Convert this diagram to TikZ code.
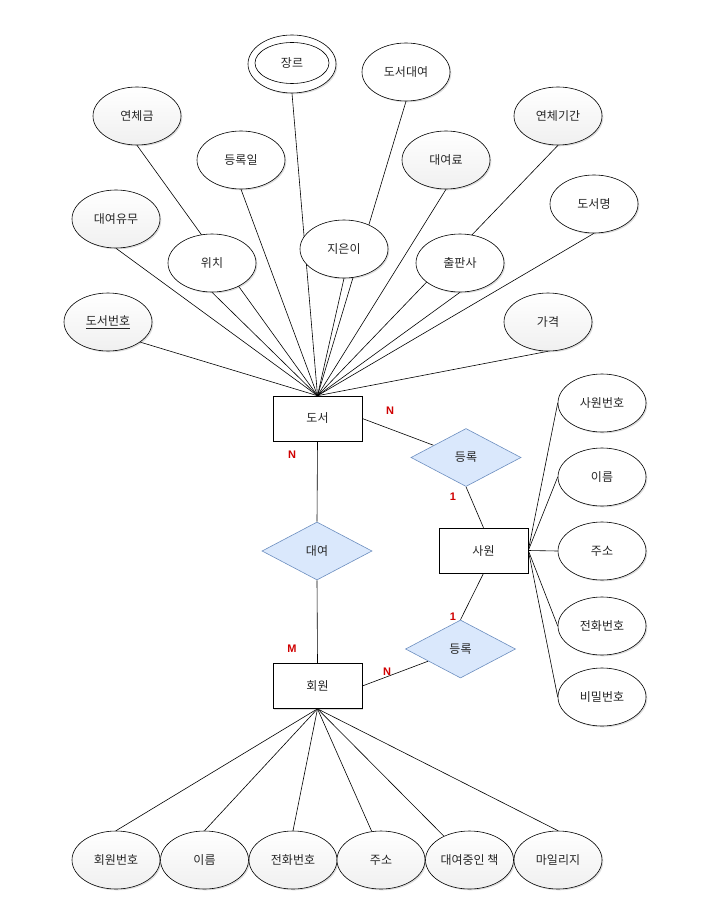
\documentclass[tikz,border=0pt]{standalone}
\usepackage{fontspec}
\setmainfont{Noto Sans CJK KR}
\newfontfamily\lblfont{Liberation Sans}
\usetikzlibrary{shapes.geometric,shadows,backgrounds}
\definecolor{dfill}{HTML}{DAE8FC}
\definecolor{dline}{HTML}{6C8EBF}
\definecolor{cred}{HTML}{D00000}
\begin{document}
\begin{tikzpicture}[x=1pt,y=-1pt,
  shd/.style={drop shadow={shadow xshift=1.3pt,shadow yshift=-1.3pt,opacity=0.25,fill=black!55}},
  attr/.style={ellipse,draw,line width=0.6pt,minimum width=88pt,minimum height=58pt,inner sep=0pt,
    fill=white,shd,text=black!85,font=\fontsize{12}{14}\selectfont},
  attrg/.style={attr,top color=white,bottom color=black!6},
  ent/.style={rectangle,draw,line width=0.6pt,minimum width=89pt,minimum height=45pt,inner sep=0pt,
    fill=white,shd,text=black!85,font=\fontsize{12}{14}\selectfont},
  rel/.style={diamond,draw=dline,line width=0.6pt,fill=dfill,minimum width=110pt,minimum height=58pt,
    inner sep=0pt,aspect=1.9,text=black!85,font=\fontsize{12}{14}\selectfont},
  card/.style={font=\lblfont\bfseries\fontsize{11}{13}\selectfont,text=cred,inner sep=0pt},
  conn/.style={line width=0.6pt,black}]
\useasboundingbox (0,0) rectangle (723,904);

% entities and relationships
\node[ent] (doseo) at (317.5,418.5) {도서};
\node[ent] (hoewon) at (317.5,686) {회원};
\node[ent] (sawon) at (483.5,550.5) {사원};
\node[rel] (daeyeo) at (317,551) {대여};
\node[rel] (reg1) at (466,457.5) {등록};
\node[rel] (reg2) at (460.5,649) {등록};

% book attributes
\node[attrg] (a1) at (108,322) {\underline{도서번호}};
\node[attrg] (a2) at (116,219) {대여유무};
\node[attrg] (a3) at (137,116) {연체금};
\node[attr] (a4) at (212,263) {위치};
\node[attr] (a5) at (241,160) {등록일};
\node[attr] (a6) at (292,64) {};
\node[ellipse,draw,line width=0.6pt,minimum width=74pt,minimum height=41pt,inner sep=0pt,fill=white,
  text=black!85,font=\fontsize{12}{14}\selectfont] (a6i) at (292,63) {장르};
\node[attr] (a7) at (344,249) {지은이};
\node[attr] (a8) at (406,72) {도서대여};
\node[attrg] (a9) at (446,160) {대여료};
\node[attr] (a10) at (460,263) {출판사};
\node[attrg] (a11) at (558,116) {연체기간};
\node[attr] (a12) at (594,204) {도서명};
\node[attrg] (a13) at (548,322) {가격};

% employee attributes
\node[attr] (s1) at (602,403) {사원번호};
\node[attr] (s2) at (602,477) {이름};
\node[attr] (s3) at (602,551) {주소};
\node[attr] (s4) at (602,626) {전화번호};
\node[attr] (s5) at (602,697) {비밀번호};

% member attributes
\node[attrg] (b1) at (116,860) {회원번호};
\node[attrg] (b2) at (204.5,860) {이름};
\node[attrg] (b3) at (293,860) {전화번호};
\node[attrg] (b4) at (381,860) {주소};
\node[attrg] (b5) at (469.5,860) {대여중인 책};
\node[attrg] (b6) at (558,860) {마일리지};

% cardinalities
\node[card] (c1) at (390,411) {N};
\node[card] (c2) at (292,455) {N};
\node[card] (c3) at (453,497) {1};
\node[card] (c4) at (453,617) {1};
\node[card] (c5) at (292,649) {M};
\node[card] (c6) at (387,672) {N};

\begin{scope}[on background layer]
  \draw[conn] (doseo.north) -- (a1.-32);
  \foreach \n in {a2,a3,a4,a5,a6,a7,a8,a9,a10,a11,a12,a13}
    \draw[conn] (doseo.north) -- (\n.south);
  \foreach \n in {s1,s2,s3,s4,s5}
    \draw[conn] (sawon.east) -- (\n.west);
  \draw[conn] (hoewon.south) -- (b1.north);
  \draw[conn] (hoewon.south) -- (b2.north);
  \draw[conn] (hoewon.south) -- (b3.north);
  \draw[conn] (hoewon.south) -- (b4.108);
  \draw[conn] (hoewon.south) -- (b5.137);
  \draw[conn] (hoewon.south) -- (b6.north);
  \draw[conn] (doseo.east) -- (reg1);
  \draw[conn] (reg1.south) -- (sawon.north);
  \draw[conn] (sawon.south) -- (reg2.north);
  \draw[conn] (hoewon.east) -- (reg2);
  \draw[conn] (doseo.south) -- (daeyeo.north);
  \draw[conn] (daeyeo.south) -- (hoewon.north);
\end{scope}
\end{tikzpicture}
\end{document}
